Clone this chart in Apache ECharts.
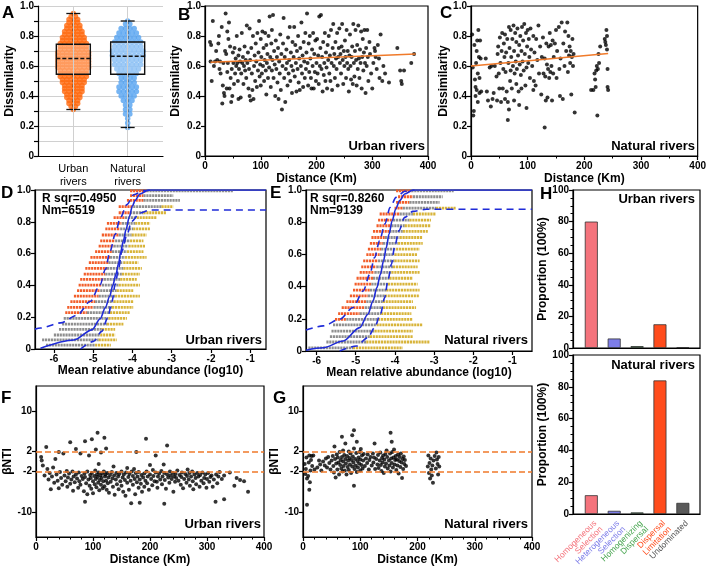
<!DOCTYPE html>
<html>
<head>
<meta charset="utf-8">
<script src="https://cdn.jsdelivr.net/npm/echarts@6/dist/echarts.min.js"></script>
<style>html,body{margin:0;padding:0;background:#fff}#main{width:709px;height:567px}</style>
</head>
<body>
<div id="main"></div>
<script>
// ---- A: swarm rows (level, number of dots) and box summaries
var urbanY = [0.31,0.33,0.35,0.37,0.39,0.41,0.43,0.45,0.47,0.49,0.51,0.53,0.55,0.57,0.59,0.61,0.63,0.65,0.67,0.69,0.71,0.73,0.75,0.77,0.79,0.81,0.83,0.85,0.87,0.89,0.91,0.93,0.95];
var urbanN = [1,2,3,3,4,4,5,5,5,6,6,7,7,7,8,8,8,8,8,8,7,7,7,6,6,5,5,4,4,3,3,2,1];
var naturalY = [0.19,0.22,0.25,0.28,0.31,0.34,0.37,0.40,0.43,0.46,0.49,0.52,0.55,0.58,0.61,0.64,0.67,0.70,0.73,0.76,0.79,0.82,0.85,0.88,0.90];
var naturalN = [1,1,1,2,2,2,3,4,5,5,4,4,5,6,7,7,8,8,7,7,6,5,4,2,1];
// [category, whisker low, q1, median, q3, whisker high]
var boxes = [[1,0.31,0.545,0.65,0.745,0.95],[2,0.19,0.545,0.665,0.76,0.90]];
var groupNames = ['Urban\nrivers','Natural\nrivers'];

// ---- B / C: dissimilarity vs distance
var bUrban = [[9,0.76],[11,0.74],[10,0.63],[12,0.50],[14,0.90],[16,0.60],[18,0.63],[20,0.70],
[22,0.64],[24,0.75],[25,0.80],[26,0.58],[27,0.63],[28,0.55],[30,0.86],[31,0.35],[32,0.47],[33,0.62],[34,0.42],[35,0.40],[36,0.70],[37,0.95],[38,0.68],[39,0.45],[40,0.83],[40,0.56],[41,0.62],
[42,0.78],[43,0.89],[44,0.45],[45,0.73],[46,0.52],[47,0.36],[48,0.58],[49,0.40],[50,0.69],[51,0.62],[52,0.48],[53,0.72],[54,0.55],[55,0.65],[56,0.60],[57,0.80],[58,0.62],[59,0.50],[60,0.38],[60,0.67],
[61,0.58],[62,0.71],[63,0.63],[64,0.39],[65,0.55],[66,0.82],[67,0.62],[68,0.66],[69,0.48],[70,0.60],[71,0.73],[72,0.57],[73,0.64],[74,0.52],[75,0.87],[76,0.62],[77,0.69],[78,0.45],[79,0.58],[80,0.85],[80,0.40],
[81,0.64],[82,0.37],[83,0.72],[84,0.55],[85,0.44],[86,0.80],[87,0.38],[88,0.60],[89,0.67],[90,0.50],[91,0.75],[92,0.63],[93,0.46],[94,0.82],[95,0.57],[96,0.69],[97,0.90],[98,0.53],[99,0.61],[100,0.78],[100,0.47],
[101,0.66],[102,0.55],[103,0.83],[104,0.60],[105,0.72],[106,0.50],[107,0.64],[108,0.82],[109,0.57],[110,0.74],[110,0.41],[111,0.62],[112,0.68],[113,0.52],[114,0.80],[115,0.59],[116,0.93],[117,0.66],[118,0.46],[119,0.75],[120,0.57],[120,0.84],
[121,0.64],[122,0.94],[123,0.52],[124,0.70],[125,0.61],[126,0.40],[127,0.77],[128,0.58],[129,0.66],[130,0.49],[131,0.72],[132,0.38],[133,0.63],[134,0.55],[135,0.81],[136,0.44],[137,0.68],[138,0.31],[139,0.60],[140,0.75],
[141,0.92],[142,0.52],[143,0.66],[144,0.36],[145,0.58],[146,0.71],[147,0.62],[148,0.47],[149,0.79],[150,0.55],[151,0.64],[152,0.86],[153,0.50],[154,0.69],[155,0.60],[156,0.42],[157,0.76],[158,0.57],[159,0.66],[160,0.86],
[161,0.53],[162,0.74],[163,0.62],[164,0.43],[165,0.70],[166,0.58],[167,0.80],[168,0.49],[169,0.65],[170,0.44],[171,0.72],[172,0.60],[173,0.89],[174,0.55],[175,0.67],[176,0.46],[177,0.76],[178,0.63],[179,0.52],[180,0.82],
[181,0.58],[182,0.69],[183,0.95],[184,0.62],[185,0.47],[186,0.75],[187,0.56],[188,0.80],[189,0.65],[190,0.52],[191,0.45],[192,0.71],[193,0.60],[194,0.82],[195,0.45],[196,0.68],[197,0.56],[198,0.77],[199,0.50],[200,0.62],
[201,0.78],[202,0.55],[203,0.67],[204,0.48],[205,0.93],[206,0.60],[207,0.72],[208,0.94],[209,0.58],[210,0.66],[211,0.43],[212,0.76],[213,0.54],[214,0.62],[215,0.82],[216,0.50],[217,0.69],[218,0.59],[219,0.45],[220,0.74],
[221,0.64],[222,0.80],[223,0.55],[224,0.67],[225,0.50],[226,0.84],[227,0.62],[228,0.44],[229,0.72],[230,0.88],[231,0.60],[232,0.68],[233,0.52],[234,0.76],[235,0.65],[236,0.58],[237,0.82],[238,0.47],[239,0.66],[240,0.72],
[241,0.85],[242,0.62],[243,0.68],[244,0.55],[245,0.73],[246,0.88],[247,0.64],[248,0.48],[249,0.70],[250,0.60],[251,0.77],[252,0.66],[253,0.52],[254,0.84],[255,0.62],[256,0.70],[257,0.58],[258,0.43],[259,0.67],[260,0.81],
[261,0.60],[262,0.51],[263,0.66],[264,0.73],[265,0.48],[266,0.88],[267,0.62],[268,0.53],[269,0.70],[270,0.84],[271,0.64],[272,0.47],[273,0.74],[274,0.58],[275,0.87],[276,0.65],[277,0.52],[278,0.71],[279,0.62],[280,0.83],
[281,0.45],[282,0.66],[283,0.78],[284,0.57],[285,0.69],[286,0.84],[287,0.62],[288,0.42],[289,0.72],[290,0.60],[291,0.84],[292,0.66],[293,0.50],[295,0.76],[296,0.68],[298,0.55],
[300,0.45],[302,0.62],[304,0.72],[305,0.70],[306,0.66],[308,0.58],[310,0.74],[312,0.65],[313,0.52],[315,0.81],[318,0.50],[320,0.60],[323,0.55],[330,0.49],[345,0.72],[350,0.57],[352,0.50],[353,0.48],[357,0.57],[370,0.62],[375,0.68]];
var bFit = [[10,0.625],[378,0.68]];

var cNatural = [[2,0.81],[3,0.59],[4,0.27],[5,0.30],[6,0.74],[7,0.51],[8,0.46],[8,0.40],[9,0.62],[10,0.44],[10,0.70],[11,0.77],[12,0.55],[12,0.36],[13,0.84],[14,0.66],[15,0.52],[15,0.42],[16,0.77],[17,0.65],[18,0.43],
[26,0.65],[28,0.43],[30,0.37],[33,0.59],[35,0.33],[36,0.60],[38,0.38],[40,0.42],[42,0.60],[45,0.53],[46,0.37],[47,0.68],[48,0.73],[49,0.55],
[50,0.45],[51,0.79],[52,0.62],[53,0.36],[54,0.70],[55,0.82],[56,0.45],[57,0.58],[58,0.75],[59,0.66],[60,0.38],[60,0.81],[61,0.56],[62,0.69],[63,0.43],[64,0.78],[65,0.36],[65,0.24],[66,0.62],[67,0.86],[67,0.31],[68,0.72],[69,0.50],[70,0.57],[70,0.84],
[71,0.66],[72,0.45],[73,0.78],[74,0.60],[75,0.87],[76,0.37],[76,0.70],[77,0.55],[78,0.82],[79,0.63],[80,0.48],[80,0.76],[81,0.58],[82,0.85],[83,0.67],[84,0.43],[85,0.74],[85,0.34],[86,0.61],[87,0.80],[88,0.54],[89,0.70],[89,0.45],[90,0.86],
[91,0.63],[92,0.77],[93,0.57],[94,0.88],[95,0.68],[96,0.47],[97,0.82],[98,0.59],[98,0.32],[99,0.73],[100,0.84],[101,0.62],[102,0.78],[103,0.66],[104,0.52],[105,0.85],[106,0.71],[108,0.60],[110,0.80],[110,0.44],
[111,0.50],[112,0.69],[114,0.47],[115,0.78],[117,0.64],[119,0.87],[120,0.55],[122,0.73],[124,0.41],[125,0.66],[127,0.79],[128,0.55],[130,0.19],[130,0.65],[131,0.53],[132,0.37],[133,0.75],[134,0.61],[135,0.39],[136,0.58],[137,0.73],[138,0.52],[139,0.82],[140,0.56],
[141,0.74],[142,0.60],[143,0.37],[144,0.77],[145,0.55],[146,0.66],[148,0.75],[150,0.84],[151,0.52],[152,0.70],[155,0.86],[156,0.58],[157,0.40],[158,0.65],[160,0.89],[162,0.38],[163,0.75],[165,0.60],[166,0.83],[168,0.70],[170,0.89],[171,0.56],[172,0.80],[173,0.67],[174,0.73],[175,0.62],[176,0.70],[177,0.41],[178,0.66],[179,0.78],[180,0.60],[181,0.68],[183,0.29],
[212,0.44],[216,0.44],[218,0.55],[219,0.51],[220,0.46],[221,0.57],[222,0.60],[223,0.27],[224,0.58],[225,0.68],[226,0.62],[228,0.73],[236,0.78],[237,0.76],[238,0.74],[239,0.84],[240,0.80],[240,0.71],[241,0.46],[242,0.44],[241,0.58]];
var cFit = [[0,0.60],[242,0.683]];

// ---- D / E: neutral model fits. rows: [occurrence, orange start, grey start, yellow start, yellow end]
var abTicks = [-6,-5,-4,-3,-2,-1];
var dRows = [[0.995,-4.06,-3.64,-1.44,-1.44],[0.965,-4.06,-3.72,-2.96,-2.96],[0.935,-4.14,-3.72,-2.79,-2.79],[0.895,-4.35,-3.98,-3.26,-2.96],
[0.857,-4.35,-4.06,-3.72,-3.13],[0.826,-4.48,-4.19,-3.89,-3.38],[0.790,-4.65,-4.27,-3.93,-3.55],[0.755,-4.69,-4.31,-3.98,-3.55],
[0.717,-4.78,-4.35,-4.02,-3.64],[0.680,-4.82,-4.44,-4.06,-3.72],[0.647,-4.86,-4.48,-4.10,-3.68],[0.612,-4.95,-4.52,-4.14,-3.72],
[0.576,-5.07,-4.57,-4.19,-3.64],[0.543,-5.11,-4.61,-4.23,-3.85],[0.507,-5.20,-4.65,-4.23,-3.76],[0.471,-5.24,-4.69,-4.27,-3.81],
[0.438,-5.33,-4.73,-4.31,-3.89],[0.402,-5.37,-4.78,-4.35,-3.81],[0.367,-5.41,-4.82,-4.40,-3.98],[0.333,-5.49,-4.86,-4.44,-3.81],
[0.298,-5.58,-4.95,-4.48,-3.98],[0.262,-5.66,-4.99,-4.52,-3.98],[0.229,-5.71,-5.16,-4.57,-4.06],[0.193,-5.75,-5.75,-4.61,-4.14],
[0.157,-5.79,-5.79,-4.65,-4.23],[0.124,-5.87,-5.87,-4.78,-4.44],[0.088,-6.00,-6.00,-4.82,-4.44],[0.057,-6.30,-6.30,-4.86,-4.40],[0.025,-6.20,-6.20,-4.95,-4.55]];
var dFit = [[-6.34,0.005],[-5.49,0.057],[-5.03,0.12],[-4.82,0.19],[-4.69,0.26],[-4.58,0.33],[-4.50,0.40],[-4.42,0.47],[-4.35,0.54],[-4.30,0.61],[-4.23,0.68],[-4.16,0.755],[-4.08,0.83],[-4.00,0.90],[-3.93,0.935],[-3.81,0.975],[-3.59,1.0],[-0.6,1.0]];
var dUpper = [[-6.48,0.125],[-6.34,0.132],[-5.83,0.164],[-5.41,0.212],[-5.07,0.30],[-4.82,0.405],[-4.69,0.50],[-4.57,0.614],[-4.44,0.72],[-4.31,0.824],[-4.14,0.908],[-3.97,0.97],[-3.72,0.996],[-3.5,1.0]];
var dLower = [[-5.32,0.0],[-4.99,0.048],[-4.78,0.111],[-4.63,0.195],[-4.52,0.30],[-4.44,0.405],[-4.35,0.509],[-4.27,0.614],[-4.14,0.719],[-4.02,0.803],[-3.81,0.855],[-3.55,0.874],[-0.6,0.874]];

var eRows = [[0.995,-3.97,-3.58,-2.5,-2.5],[0.958,-3.92,-3.54,-2.78,-2.78],[0.923,-3.97,-3.63,-2.86,-2.86],[0.888,-4.01,-3.80,-2.95,-2.44],
[0.851,-4.39,-3.88,-3.54,-2.95],[0.813,-4.43,-4.05,-3.63,-3.08],[0.778,-4.47,-4.09,-3.75,-3.08],[0.743,-4.56,-4.14,-3.80,-3.16],
[0.705,-4.60,-4.26,-3.88,-3.29],[0.668,-4.64,-4.31,-3.92,-3.29],[0.633,-4.69,-4.35,-3.97,-3.37],[0.598,-4.73,-4.39,-4.01,-3.42],
[0.560,-4.81,-4.43,-4.01,-3.37],[0.523,-4.86,-4.47,-4.05,-3.42],[0.488,-4.90,-4.52,-4.09,-3.37],[0.452,-4.98,-4.56,-4.14,-3.54],
[0.415,-5.03,-4.60,-4.18,-3.42],[0.378,-5.07,-4.64,-4.22,-3.37],[0.342,-5.15,-4.69,-4.26,-3.37],[0.307,-5.24,-4.73,-4.31,-3.54],
[0.270,-5.36,-4.77,-4.31,-3.46],[0.232,-5.45,-4.90,-4.35,-3.58],[0.197,-5.53,-5.24,-4.43,-3.54],[0.162,-5.58,-5.58,-4.47,-3.29],
[0.124,-5.62,-5.62,-4.52,-3.54],[0.089,-5.66,-5.66,-4.64,-3.54],[0.056,-5.75,-5.75,-4.73,-3.12],[0.020,-6.21,-6.21,-5.07,-3.80]];
var eFit = [[-6.27,0.005],[-5.83,0.02],[-5.32,0.062],[-4.90,0.145],[-4.69,0.228],[-4.56,0.311],[-4.46,0.394],[-4.37,0.477],[-4.29,0.56],[-4.22,0.643],[-4.15,0.726],[-4.07,0.809],[-3.98,0.882],[-3.88,0.934],[-3.75,0.975],[-3.54,1.0],[-0.5,1.0]];
var eUpper = [[-6.27,0.13],[-5.83,0.156],[-5.41,0.197],[-5.07,0.27],[-4.81,0.373],[-4.64,0.477],[-4.52,0.581],[-4.39,0.685],[-4.26,0.788],[-4.12,0.892],[-3.97,0.954],[-3.75,0.992],[-3.5,1.0]];
var eLower = [[-5.41,0],[-4.98,0.031],[-4.69,0.083],[-4.52,0.145],[-4.37,0.228],[-4.26,0.332],[-4.18,0.436],[-4.09,0.539],[-4.01,0.643],[-3.90,0.747],[-3.75,0.83],[-3.54,0.867],[-3.20,0.88],[-0.5,0.88]];

// ---- H: assembly process proportions
var hCategories = ['Homogeneous\nSelection','Heterogeneous\nSelection','Homogenizing\nDispersal','Dispersal\nLimitation','Undominated'];
var hUrban = [80, 6, 1.2, 15, 0.5];
var hNatural = [11.8, 2, 1, 84, 7];
var hBarColors = ['#F4737C','#7D7DE8','#2F7A3C','#FF4C1C','#5A5A5A'];
var hTextColors = ['#F4737C','#7D7DE8','#47A54F','#FF4C1C','#555555'];

// ---- F / G: betaNTI vs distance
var ntiTicks = [-10,-2,2,10];
var fUrban = [[9,0.9],[10,0.2],[12,-0.8],[15,-2.8],[18,2.9],[20,-1.5],[22,-3.6],[24,-2.3],[26,-5.5],[28,-3.0],[30,-1.2],[32,-4.2],[34,0.5],[36,-2.6],[38,-3.8],[40,1.9],[40,-5.3],[42,-2.1],[44,-3.3],[46,-4.6],[48,1.6],[50,-2.8],[52,-3.9],[54,-1.9],[55,-5.0],[56,-3.2],[58,-2.4],[60,-4.4],[60,3.8],[62,-3.6],[64,-2.0],[65,-5.8],[66,-3.0],[68,-4.1],[70,-2.6],[70,2.5],[72,-3.4],[74,-5.2],[75,-2.2],[76,-3.9],[78,1.6],[78,-4.6],[80,-2.9],[82,-3.5],[84,-5.9],[85,-2.4],[86,4.0],[86,-8.0],[86,-3.1],[88,-4.3],[90,-2.0],[90,-6.5],[92,-3.6],[93,1.2],[94,-4.8],[95,-2.7],[96,-3.3],[97,-5.4],[98,4.4],[98,-2.3],[100,-3.9],[100,-6.3],[102,-2.9],[103,-4.5],[104,-1.8],[105,2.4],[105,-3.5],[106,-5.1],[107,-2.6],[108,5.7],[108,-3.1],[109,-4.2],[110,-2.2],[110,-0.5],[111,-5.7],[112,-3.7],[113,-2.8],[114,1.8],[114,-4.6],[115,-3.3],[116,-2.4],[117,-5.3],[118,-3.9],[119,-2.0],[120,4.7],[120,-4.9],[121,-3.0],[122,-2.6],[123,2.6],[123,-3.8],[124,-5.6],[125,-2.3],[126,-4.3],[127,-3.2],[128,-6.2],[130,-2.7],[131,-4.0],[133,-2.1],[134,-3.4],[135,-5.0],[136,-1.0],[137,-2.8],[138,-6.6],[140,-3.6],[141,-2.3],[142,-4.5],[144,-3.0],[145,-5.5],[146,-2.5],[148,-3.9],[150,-2.0],[150,-4.8],[152,-3.2],[153,-6.0],[154,-2.6],[156,-3.7],[157,-6.8],[158,-2.2],[160,-4.2],[160,-1.3],[162,-3.1],[163,-5.6],[164,-2.5],[166,-3.8],[167,-8.3],[168,-2.0],[170,-4.6],[170,-2.9],[172,-1.5],[173,-3.5],[174,-6.5],[175,-2.3],[176,1.9],[177,-4.1],[178,-3.0],[180,-2.1],[180,-5.2],[182,-8.2],[182,-3.6],[184,-4.4],[185,-2.7],[186,-6.0],[188,-3.2],[190,-2.4],[190,-5.0],[192,-3.8],[193,4.5],[194,-2.0],[195,-4.3],[196,-3.0],[198,-5.6],[200,-2.6],[200,-0.7],[202,-3.5],[204,-4.7],[205,-1.7],[206,-2.9],[208,-3.9],[210,1.2],[210,-2.2],[212,-4.0],[213,-5.2],[214,-3.0],[216,-2.4],[218,-3.6],[220,-1.9],[221,-4.5],[222,-3.0],[224,-0.6],[225,-8.4],[225,-2.3],[226,-3.7],[228,-5.4],[230,-2.6],[230,3.2],[232,-3.2],[234,-4.2],[235,-2.0],[236,-2.8],[238,-3.5],[240,-2.3],[241,-6.0],[242,-3.0],[244,-4.0],[245,-2.5],[246,-3.3],[248,-1.8],[250,-3.8],[252,-2.7],[254,-4.6],[255,-3.1],[256,-2.2],[258,-5.3],[260,-3.5],[262,-2.5],[264,-4.2],[265,-2.9],[266,-1.6],[268,-3.6],[269,-2.3],[270,-4.8],[272,-3.0],[274,-2.0],[275,-3.9],[276,-5.5],[278,-2.6],[280,-3.3],[281,-4.5],[283,-2.3],[285,-3.0],[287,-5.0],[288,-2.7],[290,-3.8],[292,-2.2],[294,-4.3],[295,-3.3],[297,-2.6],[299,-5.2],[300,-3.5],[302,-2.3],[304,-4.0],[306,-3.1],[308,-2.8],[310,-5.0],[312,-3.6],[315,-8.0],[316,-2.6],[318,-4.3],[320,-3.0],[322,-2.1],[326,-3.5],[330,-7.5],[330,-2.8],[340,-2.2],[348,-4.8],[352,-3.3],[358,-3.7],[365,-3.9],[372,-6.0]];
var gNatural = [[3,-0.5],[4,-2.5],[5,-1.5],[6,0.8],[7,-3.4],[7,-8.6],[9,-2.9],[10,-0.2],[11,-5.6],[11,1.2],[12,-4.1],[13,-1.8],[14,0.3],[15,1.1],[16,-0.9],[18,1.2],[20,-1.6],[25,-1.2],[28,0.2],[30,-0.6],[32,-1.8],[35,0.0],[38,-0.8],[40,0.6],[42,-1.2],[44,0.9],[46,-0.3],[48,-1.6],[50,0.2],[52,1.1],[53,-0.9],[54,-2.2],[55,3.0],[56,0.5],[57,-3.2],[58,-0.4],[59,1.4],[60,-1.6],[61,0.8],[62,-0.2],[63,-2.6],[64,1.9],[65,-0.7],[66,0.3],[68,4.9],[67,-1.4],[68,0.9],[69,-2.0],[70,0.0],[70,2.2],[71,-0.9],[72,1.3],[73,-1.8],[74,3.6],[74,0.5],[75,-0.4],[76,-2.6],[77,1.1],[78,-1.1],[79,0.2],[80,2.0],[80,-1.7],[81,0.7],[82,-0.6],[83,1.6],[84,-2.3],[85,0.3],[86,5.2],[86,-1.0],[87,1.0],[89,-4.8],[88,-0.2],[89,6.2],[89,2.6],[90,-1.5],[91,0.5],[92,-0.8],[93,1.7],[94,3.9],[94,-2.1],[95,0.1],[96,-1.2],[97,0.8],[98,-0.4],[99,1.9],[100,-1.8],[100,0.4],[101,2.5],[102,-0.7],[103,1.2],[104,-1.4],[105,0.2],[106,1.5],[108,-0.9],[110,0.6],[112,-0.3],[113,1.4],[115,-1.6],[116,0.3],[118,0.9],[120,-0.8],[122,1.6],[123,-0.2],[124,0.8],[125,3.6],[126,-1.5],[128,0.5],[130,-0.6],[131,1.3],[132,-1.3],[134,0.2],[135,1.8],[136,-0.7],[137,-1.9],[138,0.7],[139,-0.2],[140,1.2],[141,-2.3],[142,0.4],[143,-1.0],[144,1.5],[145,-0.4],[146,2.2],[147,0.9],[148,-1.4],[153,5.7],[155,3.9],[150,0.2],[151,-0.8],[152,1.6],[153,-2.0],[154,0.6],[155,-0.3],[156,1.9],[157,-1.2],[158,0.8],[159,2.4],[160,-0.6],[161,0.3],[162,1.1],[163,-1.7],[164,0.4],[165,-0.8],[166,1.4],[167,-2.4],[168,0.1],[169,0.9],[170,-1.1],[171,1.6],[172,-0.2],[173,-3.3],[174,0.5],[175,-1.5],[176,1.0],[177,-0.5],[178,0.3],[180,-0.9],
[218,-1.0],[219,1.2],[220,-2.3],[221,-0.3],[222,-3.4],[223,0.6],[224,-1.6],[225,-2.8],[226,-0.8],[227,-4.2],[228,0.2],[230,1.1],[232,-1.4],[233,1.8],[234,0.4],[235,-0.5],[236,-2.6],[237,0.9],[238,-1.0]];

var FONT = '"Liberation Sans", Arial, sans-serif';
var lab = {color:'#000', fontSize:10, fontWeight:'bold', fontFamily:FONT};
var nameSt = {color:'#000', fontSize:12, fontWeight:'bold', fontFamily:FONT};
var axLine = {show:true, onZero:false, lineStyle:{color:'#000', width:1.2}};
var tick = {show:true, length:4, lineStyle:{color:'#000', width:1.2}};
function ext(a, b){ return Object.assign({}, a, b); }
function frac(v){ return v === 0 ? '0' : v.toFixed(1); }

// swarm layout: dots of a row placed side by side around the group centre
function swarm(center, ys, ns){
  var out = [], step = 0.08;
  for (var i = 0; i < ys.length; i++) {
    for (var j = 0; j < ns[i]; j++) out.push([center + (j - (ns[i]-1)/2) * step, ys[i]]);
  }
  return out;
}

function renderBox(params, api){
  var x = api.value(0);
  var lo = api.coord([x, api.value(1)]), q1 = api.coord([x, api.value(2)]), md = api.coord([x, api.value(3)]);
  var q3 = api.coord([x, api.value(4)]), hi = api.coord([x, api.value(5)]);
  var hw = 17, cw = 7, cx = q1[0];
  var ln = function(x1,y1,x2,y2,dash){ return {type:'line', shape:{x1:x1,y1:y1,x2:x2,y2:y2}, style:{stroke:'#111', lineWidth:1.3, lineDash:dash||null}}; };
  return {type:'group', children:[
    {type:'rect', shape:{x:cx-hw, y:q3[1], width:hw*2, height:q1[1]-q3[1]}, style:{fill:'rgba(255,255,255,0.3)', stroke:'#111', lineWidth:1.4}},
    ln(cx-hw, md[1], cx+hw, md[1], [4,2]),
    ln(cx, hi[1], cx, q3[1], [3,2]),
    ln(cx, q1[1], cx, lo[1], [3,2]),
    ln(cx-cw, hi[1], cx+cw, hi[1]),
    ln(cx-cw, lo[1], cx+cw, lo[1])
  ]};
}

function renderRows(params, api){
  var y = api.value(0);
  var segs = [[api.value(1), api.value(2), '#F25E2A'], [api.value(2), api.value(3), '#8E8E8E'], [api.value(3), api.value(4), '#D8B43A']];
  var ch = [];
  segs.forEach(function(s){
    if (s[1] - s[0] < 0.005) return;
    var a = api.coord([s[0], y]), b = api.coord([s[1], y]);
    ch.push({type:'line', shape:{x1:a[0], y1:a[1], x2:b[0], y2:b[1]}, style:{stroke:s[2], lineWidth:2.8, lineDash:[2.2,0.7]}});
  });
  return {type:'group', children:ch};
}

var framed = {show:true, borderColor:'#000', borderWidth:1.2, backgroundColor:'transparent'};
var grids = [
  {left:38, top:6, width:125, height:150},
  ext(framed, {left:205, top:6, width:223, height:150}),
  ext(framed, {left:471, top:6, width:229, height:150}),
  ext(framed, {left:35, top:190, width:231, height:159}),
  ext(framed, {left:306, top:190, width:226, height:161}),
  ext(framed, {left:573, top:190, width:127, height:158}),
  ext(framed, {left:573, top:355, width:127, height:159}),
  ext(framed, {left:36, top:386, width:228, height:151}),
  ext(framed, {left:303, top:386, width:229, height:151})
];

function distAxis(gi, minor){
  return {type:'value', gridIndex:gi, min:0, max:400, interval:100, axisLine:axLine, axisTick:tick,
    minorTick:{show:true, splitNumber:minor, length:2.5, lineStyle:{color:'#000', width:1}},
    splitLine:{show:false}, axisLabel:ext(lab, {margin:5}),
    name:'Distance (Km)', nameLocation:'middle', nameGap:17, nameTextStyle:nameSt};
}
function abAxis(gi, min, max){
  return {type:'value', gridIndex:gi, min:min, max:max, axisLine:axLine,
    axisTick:ext(tick, {customValues:abTicks}), axisLabel:ext(lab, {customValues:abTicks, margin:5}),
    splitLine:{show:false},
    name:'Mean relative abundance (log10)', nameLocation:'middle', nameGap:15, nameTextStyle:nameSt};
}
function hAxis(gi){
  return {type:'value', gridIndex:gi, min:-0.8, max:4.75, axisLine:axLine, axisTick:{show:false}, splitLine:{show:false}, axisLabel:{show:false}};
}
function unitY(gi, name, gap){
  var a = {type:'value', gridIndex:gi, min:0, max:1, interval:0.2, axisLine:axLine, axisTick:tick, splitLine:{show:false}, axisLabel:ext(lab, {formatter:frac, margin:4})};
  if (name) { a.name = name; a.nameLocation = 'middle'; a.nameGap = gap; a.nameTextStyle = nameSt; }
  return a;
}
function propY(gi){
  return {type:'value', gridIndex:gi, min:0, max:100, interval:20, axisLine:axLine, axisTick:tick,
    minorTick:{show:true, splitNumber:4, length:2.5, lineStyle:{color:'#000'}}, splitLine:{show:false},
    axisLabel:ext(lab, {margin:4}), name:'Proportion (100%)', nameLocation:'middle', nameGap:23, nameTextStyle:nameSt};
}
function ntiY(gi, gap){
  return {type:'value', gridIndex:gi, min:-15, max:15, axisLine:axLine,
    axisTick:ext(tick, {customValues:ntiTicks}), axisLabel:ext(lab, {customValues:ntiTicks, margin:4}), splitLine:{show:false},
    name:'βNTI', nameLocation:'middle', nameGap:gap, nameTextStyle:nameSt};
}

var xAxes = [
  {type:'value', gridIndex:0, min:0.35, max:2.65, axisLine:axLine, axisTick:{show:false}, splitLine:{show:false},
   axisLabel:{customValues:[1,2], showMinLabel:true, showMaxLabel:true, color:'#000', fontSize:11, fontFamily:FONT, lineHeight:13, margin:6,
     formatter:function(v){ return groupNames[Math.round(v)-1]; }}},
  distAxis(1, 2), distAxis(2, 2),
  abAxis(3, -6.48, -0.6), abAxis(4, -6.27, -0.5),
  hAxis(5), hAxis(6),
  distAxis(7, 5), distAxis(8, 5)
];
var yAxes = [
  ext(unitY(0, 'Dissimilarity', 22), {interval:0.1, splitLine:{show:true, lineStyle:{color:'#d0d0d0', width:1}},
    axisLabel:ext(lab, {margin:4, formatter:function(v){ return Math.round(v*10) % 2 ? '' : frac(v); }})}),
  unitY(1, 'Dissimilarity', 23), unitY(2, 'Dissimilarity', 18),
  unitY(3), unitY(4),
  propY(5), propY(6),
  ntiY(7, 19), ntiY(8, 19)
];

function dots(idx, data){
  return {type:'scatter', xAxisIndex:idx, yAxisIndex:idx, data:data, symbolSize:4, itemStyle:{color:'#000'}, z:3};
}
function fitLine(idx, data, color, dash){
  return {type:'line', xAxisIndex:idx, yAxisIndex:idx, data:data, showSymbol:false, smooth:0.3, smoothMonotone:'x',
    lineStyle:{color:color, width:1.6, type:dash ? [7,5] : 'solid'}, z:5};
}
function bars(idx, vals){
  return {type:'bar', xAxisIndex:idx, yAxisIndex:idx, barWidth:13,
    data:vals.map(function(v, i){ return {value:[i, v], itemStyle:{color:hBarColors[i], borderColor:'#333', borderWidth:0.8}}; })};
}
function ntiDots(idx, data){
  var s = dots(idx, data);
  s.markLine = {silent:true, symbol:'none', label:{show:false}, lineStyle:{color:'#F07A2A', type:[6,3], width:1.5},
    data:[{yAxis:2}, {yAxis:-2}]};
  return s;
}

var series = [
  {type:'scatter', xAxisIndex:0, yAxisIndex:0, data:[], z:1,
   markLine:{silent:true, symbol:'none', label:{show:false}, lineStyle:{color:'#d0d0d0', type:'solid', width:1}, data:[{xAxis:1}, {xAxis:2}]}},
  {type:'scatter', xAxisIndex:0, yAxisIndex:0, data:swarm(1, urbanY, urbanN), symbolSize:5.5, itemStyle:{color:'#FF6A10'}, z:2},
  {type:'scatter', xAxisIndex:0, yAxisIndex:0, data:swarm(2, naturalY, naturalN), symbolSize:5.5, itemStyle:{color:'#55A2F0'}, z:2},
  {type:'custom', xAxisIndex:0, yAxisIndex:0, data:boxes, renderItem:renderBox, encode:{x:0, y:[1,2,3,4,5]}, z:4},

  dots(1, bUrban), fitLine(1, bFit, '#F07A2A'),
  dots(2, cNatural), fitLine(2, cFit, '#F07A2A'),

  {type:'custom', xAxisIndex:3, yAxisIndex:3, data:dRows, renderItem:renderRows, encode:{x:[1,2,3,4], y:0}, z:2},
  fitLine(3, dFit, '#1F2BD8'), fitLine(3, dUpper, '#1F2BD8', true), fitLine(3, dLower, '#1F2BD8', true),
  {type:'custom', xAxisIndex:4, yAxisIndex:4, data:eRows, renderItem:renderRows, encode:{x:[1,2,3,4], y:0}, z:2},
  fitLine(4, eFit, '#1F2BD8'), fitLine(4, eUpper, '#1F2BD8', true), fitLine(4, eLower, '#1F2BD8', true),

  bars(5, hUrban), bars(6, hNatural),
  ntiDots(7, fUrban), ntiDots(8, gNatural)
];

function txt(x, y, s, size, align, weight){
  return {type:'text', x:x, y:y, z:100, style:{text:s, fill:'#000', align:align || 'left', verticalAlign:'middle',
    font:(weight || 'bold') + ' ' + size + 'px ' + FONT}};
}
var graphics = [
  txt(2, 13, 'A', 17), txt(178, 15, 'B', 17), txt(440, 13, 'C', 17),
  txt(1, 193, 'D', 17), txt(270, 193, 'E', 17), txt(540, 194, 'H', 17),
  txt(1, 398, 'F', 17), txt(273, 398, 'G', 17),
  txt(425, 146, 'Urban rivers', 13, 'right'), txt(695, 146, 'Natural rivers', 13, 'right'),
  txt(42, 199, 'R sqr=0.4950', 12), txt(42, 211, 'Nm=6519', 12),
  txt(310, 199, 'R sqr=0.8260', 12), txt(310, 211, 'Nm=9139', 12),
  txt(262, 340, 'Urban rivers', 13, 'right'), txt(528, 340, 'Natural rivers', 13, 'right'),
  txt(695, 199, 'Urban rivers', 13, 'right'), txt(695, 365, 'Natural rivers', 13, 'right'),
  txt(261, 524, 'Urban rivers', 13, 'right'), txt(528, 524, 'Natural rivers', 13, 'right')
];

var chart = echarts.init(document.getElementById('main'), null, {renderer:'canvas'});
chart.setOption({
  animation:false,
  backgroundColor:'#fff',
  grid:grids,
  xAxis:xAxes,
  yAxis:yAxes,
  series:series,
  graphic:graphics
});

// rotated, coloured category names under the lower H panel, placed at each bar's axis position
var hLabels = hCategories.map(function(name, i){
  var p = chart.convertToPixel({xAxisIndex:6, yAxisIndex:6}, [i, 0]);
  return {type:'text', x:p[0] + 1, y:p[1] + 5, rotation:Math.PI / 4, z:100,
    style:{text:name, fill:hTextColors[i], align:'right', verticalAlign:'top', lineHeight:8.5,
      font:'8.5px ' + FONT}};
});
chart.setOption({graphic:graphics.concat(hLabels)});
</script>
</body>
</html>
